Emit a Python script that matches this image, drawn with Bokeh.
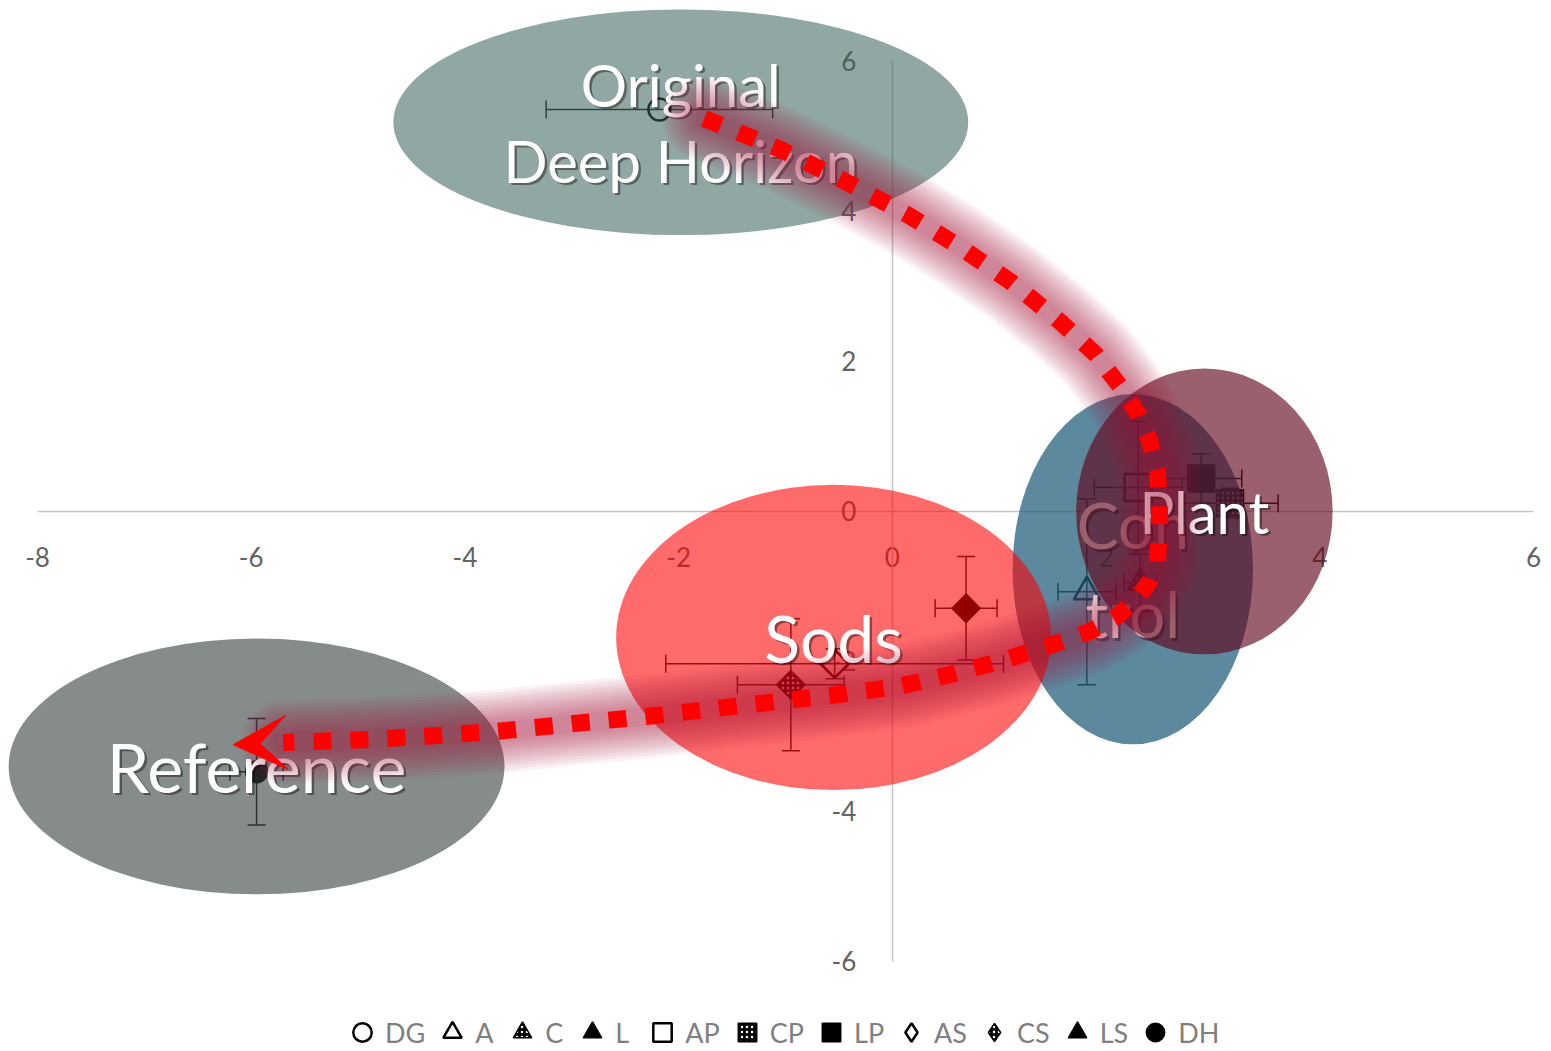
import numpy as np
from bokeh.plotting import figure
from bokeh.models import (Range1d, FixedTicker, ColumnDataSource, Whisker, TeeHead,
                          Arrow, VeeHead, Legend, LegendItem)
from bokeh.core.properties import value
from bokeh.embed import file_html
from bokeh.resources import INLINE

# ---------------- data ----------------
x_ticks = [-8, -6, -4, -2, 0, 2, 4, 6]
y_ticks = [-6, -4, -2, 0, 2, 4, 6]

point_names = ["DG", "DH", "AS", "CS", "LS", "A", "C", "AP", "LP", "CP"]
point_x = [-2.18, -5.95, -0.54, -0.95, 0.69, 1.82, 2.32, 2.30, 2.89, 3.16]
point_y = [5.36, -3.47, -2.03, -2.31, -1.29, -1.07, -0.95, 0.32, 0.44, 0.11]
x_err = [1.06, 0.25, 1.58, 0.50, 0.29, 0.27, 0.15, 0.41, 0.38, 0.45]
y_err = [0.00, 0.71, 0.20, 0.88, 0.69, 1.24, 0.38, 0.88, 0.33, 0.20]

region_labels = ["Original\nDeep Horizon", "Con\ntrol", "Sods", "Plant", "Reference"]
region_x = [-1.98, 2.25, -0.55, 2.92, -5.95]
region_y = [5.19, -0.77, -1.68, 0.00, -3.40]
region_w = [5.38, 2.25, 4.07, 2.40, 4.64]
region_h = [3.01, 4.67, 4.07, 3.81, 3.41]

path_x = [-1.76, -1.05, -0.40, 0.15, 0.63, 1.12, 1.57, 1.90, 2.13, 2.30, 2.41, 2.48, 2.50,
          2.50, 2.48, 2.40, 2.27, 2.08, 1.85, 1.45, 1.00, 0.55, 0.07, -0.50, -1.06, -1.67,
          -2.28, -3.00, -3.69, -4.30, -4.90, -5.30, -5.70]
path_y = [5.24, 4.83, 4.37, 3.95, 3.53, 3.05, 2.53, 2.10, 1.67, 1.30, 0.93, 0.53, 0.13,
          -0.27, -0.67, -0.95, -1.20, -1.42, -1.60, -1.80, -2.00, -2.17, -2.33, -2.44, -2.53,
          -2.63, -2.73, -2.83, -2.93, -2.99, -3.04, -3.06, -3.08]
arrow_tip = (-6.17, -3.11)

legend_labels = ["DG", "A", "C", "L", "AP", "CP", "LP", "AS", "CS", "LS", "DH"]

# ---------------- styles ----------------
OPEN = dict(fill_alpha=0, line_color="black", line_width=2.5)
SOLID = dict(fill_color="black", line_color="black", line_width=1.5)
CHECK = dict(fill_color="black", line_color="black", line_width=1.5,
             hatch_pattern="dot", hatch_color="white", hatch_scale=5, hatch_weight=1.5)

point_style = {
    "DG": dict(marker="circle", size=22, **OPEN),
    "DH": dict(marker="circle", size=22, **SOLID),
    "AS": dict(marker="square", size=20, angle=np.pi / 4, **OPEN),
    "CS": dict(marker="square", size=20, angle=np.pi / 4, **CHECK),
    "LS": dict(marker="square", size=20, angle=np.pi / 4, **SOLID),
    "A": dict(marker="triangle", size=26, **OPEN),
    "C": dict(marker="triangle", size=26, **CHECK),
    "AP": dict(marker="square", size=27, **OPEN),
    "LP": dict(marker="square", size=27, **SOLID),
    "CP": dict(marker="square", size=27, **CHECK),
}
legend_style = {
    "DG": dict(marker="circle", **OPEN), "A": dict(marker="triangle", **OPEN),
    "C": dict(marker="triangle", **CHECK), "L": dict(marker="triangle", **SOLID),
    "AP": dict(marker="square", **OPEN), "CP": dict(marker="square", **CHECK),
    "LP": dict(marker="square", **SOLID),
    "AS": dict(marker="diamond", **OPEN),
    "CS": dict(marker="diamond", **CHECK),
    "LS": dict(marker="triangle", **SOLID),
    "DH": dict(marker="circle", **SOLID),
}
region_fill = ["#375f5a", "#1f5b78", "#ff0000", "#60031a", "#353f3f"]
region_alpha = [0.55, 0.72, 0.58, 0.63, 0.6]
region_font = ["58px", "63px", "66px", "58px", "68px"]
region_lh = [1.1, 1.19, 1.2, 1.2, 1.2]

# ---------------- figure ----------------
p = figure(width=1551, height=1051, x_range=Range1d(-8.3463, 6.1684),
           y_range=Range1d(-7.2, 6.8133), output_backend="svg", toolbar_location=None,
           min_border=0, outline_line_color=None)
p.grid.visible = False

for ax, ticks, bnds in ((p.xaxis, x_ticks, (-8, 6)), (p.yaxis, y_ticks, (-6, 6))):
    ax.fixed_location = 0
    ax.ticker = FixedTicker(ticks=ticks)
    ax.major_label_overrides = {t: str(t) for t in ticks}
    ax.bounds = bnds
    ax.major_tick_line_color = None
    ax.minor_tick_line_color = None
    ax.axis_line_color = "#c4c4c4"
    ax.axis_line_width = 1.5
    ax.major_label_text_font = "Lato"
    ax.major_label_text_font_size = "26px"
    ax.major_label_text_color = "#636363"
    ax.major_label_standoff = 30
    ax.level = "underlay"

# error bars
xe = [i for i in range(len(point_names)) if x_err[i] > 0]
ye = [i for i in range(len(point_names)) if y_err[i] > 0]
src_x = ColumnDataSource(dict(base=[point_y[i] for i in xe],
                              lower=[point_x[i] - x_err[i] for i in xe],
                              upper=[point_x[i] + x_err[i] for i in xe]))
src_y = ColumnDataSource(dict(base=[point_x[i] for i in ye],
                              lower=[point_y[i] - y_err[i] for i in ye],
                              upper=[point_y[i] + y_err[i] for i in ye]))
for src, dim in ((src_x, "width"), (src_y, "height")):
    w = Whisker(source=src, base="base", lower="lower", upper="upper", dimension=dim,
                line_color="#202020", line_width=1.5, level="underlay",
                lower_head=TeeHead(size=18, line_color="#202020", line_width=1.5),
                upper_head=TeeHead(size=18, line_color="#202020", line_width=1.5))
    p.add_layout(w)

# markers
for i, name in enumerate(point_names):
    p.scatter(x=[point_x[i]], y=[point_y[i]], **point_style[name])

# ellipses & labels (order matters for layering)
def label(i):
    p.text(x=[region_x[i]], y=[region_y[i]], text=[region_labels[i]], x_offset=2.5, y_offset=2.5,
           text_font=value("Lato"), text_font_size=value(region_font[i]), text_color="black",
           text_alpha=0.4, text_align="center", text_baseline="middle",
           text_line_height=region_lh[i])
    p.text(x=[region_x[i]], y=[region_y[i]], text=[region_labels[i]],
           text_font=value("Lato"), text_font_size=value(region_font[i]), text_color="white",
           text_align="center", text_baseline="middle", text_line_height=region_lh[i])

def ell(i):
    p.ellipse(x=[region_x[i]], y=[region_y[i]], width=[region_w[i]], height=[region_h[i]],
              fill_color=region_fill[i], fill_alpha=region_alpha[i], line_color=None)

ell(4)  # Reference
ell(0)  # Original
ell(1)  # Control
label(1)
ell(2)  # Sods
ell(3)  # Plant
label(0)
label(2)
label(3)
label(4)

# glowing path (soft blur imitation)
for lw in range(84, 14, -6):
    p.line(x=path_x, y=path_y, line_color="#a8172f", line_alpha=0.055, line_width=lw,
           line_cap="round", line_join="round")
p.line(x=path_x, y=path_y, line_color="#ff0000", line_width=17, line_dash="18 19",
       line_cap="butt", line_join="round")
p.add_layout(Arrow(x_start=path_x[-1], y_start=path_y[-1], x_end=arrow_tip[0], y_end=arrow_tip[1],
                   line_alpha=0, line_width=1,
                   end=VeeHead(size=54, fill_color="#ff0000", line_color="#ff0000", line_width=1)))

# legend (proxies carry no visible points)
items = []
for lab in legend_labels:
    r = p.scatter(x=[np.nan], y=[np.nan], **legend_style[lab])
    items.append(LegendItem(label=lab, renderers=[r]))
legend = Legend(items=items, orientation="horizontal", location=(339, -4),
                glyph_width=46, glyph_height=46, label_standoff=0, spacing=4,
                padding=0, margin=0, border_line_color=None, background_fill_alpha=0,
                label_text_font="Lato", label_text_font_size="27px",
                label_text_color="#7f7f7f")
p.add_layout(legend)

open("out.html", "w").write(file_html(p, INLINE))
